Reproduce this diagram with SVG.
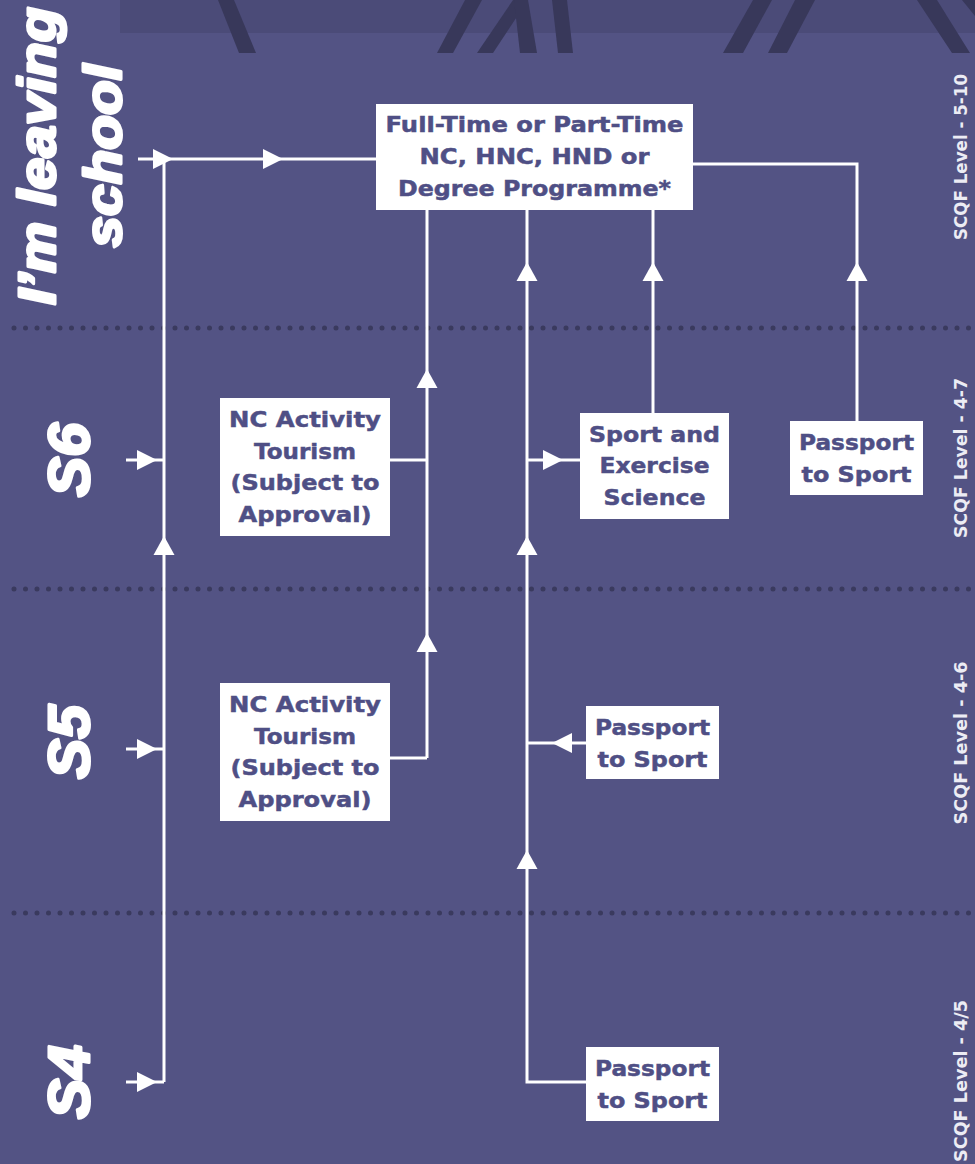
<svg xmlns="http://www.w3.org/2000/svg" xmlns:xlink="http://www.w3.org/1999/xlink" width="975" height="1164" viewBox="0 0 975 1164">
<style>
.bg{fill:#535384}
.band{fill:#4b4b78}
.stripe{fill:#38385a}
.dots{stroke:#3a3a5e;stroke-width:5;stroke-linecap:round;stroke-dasharray:0 11.5;fill:none}
.ln{stroke:#ffffff;stroke-width:3;fill:none}
.ah{fill:#ffffff}
.box{fill:#ffffff}
.bx{font-family:"DejaVu Sans","Liberation Sans",sans-serif;font-weight:700;font-size:22px;fill:#4f4f85;stroke:#4f4f85;stroke-width:0.5;text-anchor:middle}
.lvl{font-family:"DejaVu Sans","Liberation Sans",sans-serif;font-weight:700;font-size:17px;fill:#ececf4;text-anchor:middle}
.big{font-family:"Liberation Sans",Arial,sans-serif;font-weight:700;font-style:italic;fill:#ffffff;stroke:#ffffff;stroke-width:3;stroke-linejoin:round;text-anchor:middle}
</style>
<defs>
<path id="up" d="M0,0 L10.5,19 L-10.5,19 Z"/>
<path id="rt" d="M0,0 L-20,-10 L-20,10 Z"/>
<path id="lt" d="M0,0 L20,-10 L20,10 Z"/>
</defs>
<rect class="bg" x="0" y="0" width="975" height="1164"/>
<g id="decor">
<rect class="band" x="120" y="0" width="855" height="33"/>
<polygon class="stripe" points="218,0 234,0 256,53 239,53"/>
<polygon class="stripe" points="465,0 482,0 453,53 437,53"/>
<polygon class="stripe" points="513,0 528,0 493,53 477,53"/>
<polygon class="stripe" points="514,0 528,0 537,53 520,53"/>
<polygon class="stripe" points="552,0 567,0 573,53 558,53"/>
<polygon class="stripe" points="753,0 772,0 743,53 723,53"/>
<polygon class="stripe" points="795,0 815,0 787,53 768,53"/>
<polygon class="stripe" points="917,0 937,0 970,53 952,53"/>
<polygon class="stripe" points="962,0 975,0 975,16"/>
<line class="dots" x1="14" y1="328" x2="975" y2="328"/>
<line class="dots" x1="14" y1="589" x2="975" y2="589"/>
<line class="dots" x1="14" y1="913" x2="975" y2="913"/>
</g>
<g id="stage-labels">
<text class="big" font-size="52" transform="translate(55,156) rotate(-90)" textLength="298" lengthAdjust="spacingAndGlyphs">I’m leaving</text>
<text class="big" font-size="52" transform="translate(121,156) rotate(-90)" textLength="183" lengthAdjust="spacingAndGlyphs">school</text>
<text class="big" font-size="58" transform="translate(89,460) rotate(-90)" textLength="74" lengthAdjust="spacingAndGlyphs">S6</text>
<text class="big" font-size="58" transform="translate(89,742) rotate(-90)" textLength="74" lengthAdjust="spacingAndGlyphs">S5</text>
<text class="big" font-size="58" transform="translate(89,1082) rotate(-90)" textLength="74" lengthAdjust="spacingAndGlyphs">S4</text>
</g>
<g id="level-labels">
<text class="lvl" transform="translate(967,157) rotate(-90)" textLength="166" lengthAdjust="spacingAndGlyphs">SCQF Level - 5-10</text>
<text class="lvl" transform="translate(967,458) rotate(-90)" textLength="160" lengthAdjust="spacingAndGlyphs">SCQF Level - 4-7</text>
<text class="lvl" transform="translate(967,743) rotate(-90)" textLength="163" lengthAdjust="spacingAndGlyphs">SCQF Level - 4-6</text>
<text class="lvl" transform="translate(967,1081) rotate(-90)" textLength="162" lengthAdjust="spacingAndGlyphs">SCQF Level - 4/5</text>
</g>
<g id="connectors">
<path class="ln" d="M138,159 H376"/>
<path class="ln" d="M164,159 V1082"/>
<path class="ln" d="M126,460 H164 M126,749 H164 M126,1082 H164"/>
<path class="ln" d="M390,460 H427 M390,758 H427 M427,758 V210"/>
<path class="ln" d="M527,210 V1082 H586 M527,460 H580 M586,743 H527"/>
<path class="ln" d="M653,210 V413"/>
<path class="ln" d="M693,164 H857 V421"/>
<use class="ah" href="#rt" x="173" y="159"/>
<use class="ah" href="#rt" x="283" y="159"/>
<use class="ah" href="#rt" x="157" y="460"/>
<use class="ah" href="#rt" x="157" y="749"/>
<use class="ah" href="#rt" x="157" y="1082"/>
<use class="ah" href="#rt" x="563" y="460"/>
<use class="ah" href="#lt" x="552" y="743"/>
<use class="ah" href="#up" x="164" y="536"/>
<use class="ah" href="#up" x="427" y="369"/>
<use class="ah" href="#up" x="427" y="633"/>
<use class="ah" href="#up" x="527" y="262"/>
<use class="ah" href="#up" x="527" y="536"/>
<use class="ah" href="#up" x="527" y="850"/>
<use class="ah" href="#up" x="653" y="262"/>
<use class="ah" href="#up" x="857" y="262"/>
</g>
<g id="node-degree">
<rect class="box" x="376" y="104" width="317" height="106"/>
<text class="bx" x="534.5" y="132" textLength="298" lengthAdjust="spacingAndGlyphs">Full-Time or Part-Time</text>
<text class="bx" x="534.5" y="164" textLength="230" lengthAdjust="spacingAndGlyphs">NC, HNC, HND or</text>
<text class="bx" x="534.5" y="196" textLength="273" lengthAdjust="spacingAndGlyphs">Degree Programme*</text>
</g>
<g id="node-nc-s6">
<rect class="box" x="220" y="398" width="170" height="138"/>
<text class="bx" x="305" y="427" textLength="152" lengthAdjust="spacingAndGlyphs">NC Activity</text>
<text class="bx" x="305" y="459" textLength="102" lengthAdjust="spacingAndGlyphs">Tourism</text>
<text class="bx" x="305" y="490" textLength="149" lengthAdjust="spacingAndGlyphs">(Subject to</text>
<text class="bx" x="305" y="522" textLength="133" lengthAdjust="spacingAndGlyphs">Approval)</text>
</g>
<g id="node-nc-s5">
<rect class="box" x="220" y="683" width="170" height="138"/>
<text class="bx" x="305" y="712" textLength="152" lengthAdjust="spacingAndGlyphs">NC Activity</text>
<text class="bx" x="305" y="744" textLength="102" lengthAdjust="spacingAndGlyphs">Tourism</text>
<text class="bx" x="305" y="775" textLength="149" lengthAdjust="spacingAndGlyphs">(Subject to</text>
<text class="bx" x="305" y="807" textLength="133" lengthAdjust="spacingAndGlyphs">Approval)</text>
</g>
<g id="node-sport-science">
<rect class="box" x="580" y="413" width="149" height="106"/>
<text class="bx" x="654.5" y="442" textLength="131" lengthAdjust="spacingAndGlyphs">Sport and</text>
<text class="bx" x="654.5" y="473" textLength="110" lengthAdjust="spacingAndGlyphs">Exercise</text>
<text class="bx" x="654.5" y="505" textLength="102" lengthAdjust="spacingAndGlyphs">Science</text>
</g>
<g id="node-passport-s6">
<rect class="box" x="790" y="421" width="133" height="74"/>
<text class="bx" x="856.5" y="450" textLength="115" lengthAdjust="spacingAndGlyphs">Passport</text>
<text class="bx" x="856.5" y="482" textLength="110" lengthAdjust="spacingAndGlyphs">to Sport</text>
</g>
<g id="node-passport-s5">
<rect class="box" x="586" y="706" width="133" height="73"/>
<text class="bx" x="652.5" y="735" textLength="115" lengthAdjust="spacingAndGlyphs">Passport</text>
<text class="bx" x="652.5" y="767" textLength="110" lengthAdjust="spacingAndGlyphs">to Sport</text>
</g>
<g id="node-passport-s4">
<rect class="box" x="586" y="1047" width="133" height="74"/>
<text class="bx" x="652.5" y="1076" textLength="115" lengthAdjust="spacingAndGlyphs">Passport</text>
<text class="bx" x="652.5" y="1108" textLength="110" lengthAdjust="spacingAndGlyphs">to Sport</text>
</g>
</svg>
